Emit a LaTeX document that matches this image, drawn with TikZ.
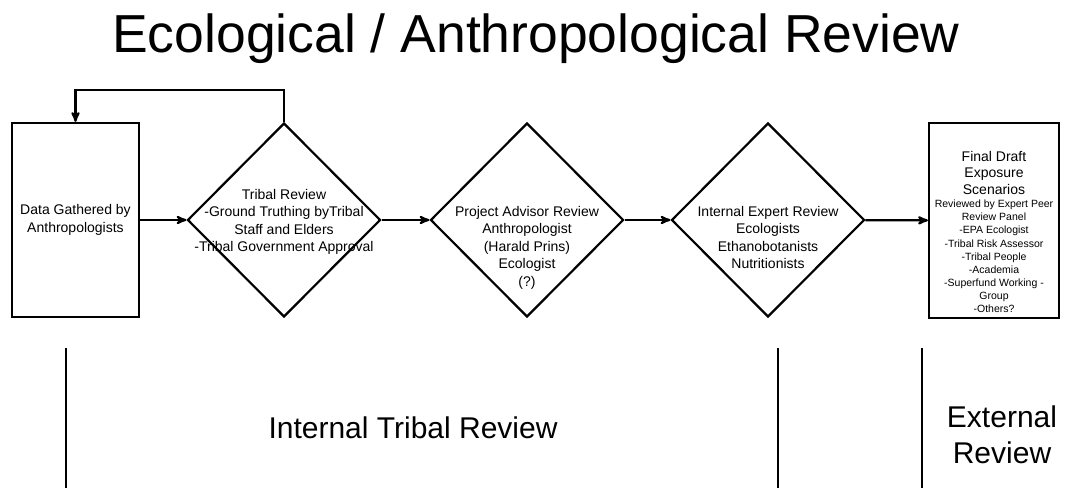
\documentclass[tikz,border=0pt]{standalone}
\usepackage{fontspec}
\setmainfont{Liberation Sans}
\usepackage{tikz}
\usetikzlibrary{arrows,shapes.geometric}

\begin{document}
\begin{tikzpicture}[x=1pt,y=-1pt,->,>=stealth',line width=2.2pt,
                    box node/.style={rectangle,draw,inner sep=0pt},
                    review node/.style={diamond,draw,inner sep=0pt,minimum width=193pt,minimum height=194pt},
                    note/.style={align=center,inner sep=0pt,font=\fontsize{14}{17.5}\selectfont},
                    divider/.style={-,line width=1.6pt},
                    region/.style={inner sep=0pt,align=center,font=\fontsize{30}{36}\selectfont}]
\useasboundingbox (0,0) rectangle (1071,489);

\node[anchor=base,inner sep=0pt,font=\fontsize{53.5}{60}\selectfont] (title) at (536,53) {Ecological / Anthropological Review};

\node[box node,minimum width=127pt,minimum height=194pt] (data) at (75.5,220) {};
\node[review node] (tribal) at (284,220) {};
\node[review node] (advisor) at (527,220) {};
\node[review node] (expert) at (768,220) {};
\node[box node,minimum width=130pt,minimum height=195pt] (final) at (994,220.5) {};

\node[note] (datatext) at (data.center) {Data Gathered by\\Anthropologists};
\node[note,anchor=north] (tribaltext) at (284,188) {Tribal Review\\-Ground Truthing byTribal\\Staff and Elders\\-Tribal Government Approval};
\node[note,anchor=north] (advisortext) at (527,205) {Project Advisor Review\\Anthropologist\\(Harald Prins)\\Ecologist\\(?)};
\node[note,anchor=north] (experttext) at (768,205) {Internal Expert Review\\Ecologists\\Ethanobotanists\\Nutritionists};
\node[note,anchor=north,font=\fontsize{14}{16.5}\selectfont] (finalhead) at (994,150) {Final Draft\\Exposure\\Scenarios};
\node[note,anchor=north,font=\fontsize{10.5}{13.1}\selectfont] (finalbody) at (994,199) {Reviewed by Expert Peer\\Review Panel\\-EPA Ecologist\\-Tribal Risk Assessor\\-Tribal People\\-Academia\\-Superfund Working -\\Group\\-Others?};

\coordinate (loop) at (180,90);

\path
(data) edge (tribal)
(tribal) edge (advisor)
(advisor) edge (expert)
(expert) edge (final);
\draw (tribal.north) |- (loop) -| (data.north);

\foreach \x in {66,778,922}
  \draw[divider] (\x,348) -- (\x,488);

\node[region,anchor=base] (internal) at (413,438) {Internal Tribal Review};
\node[region,anchor=base] (external) at (1002,427) {External};
\node[region,anchor=base] (externalb) at (1002,463) {Review};
\end{tikzpicture}
\end{document}
